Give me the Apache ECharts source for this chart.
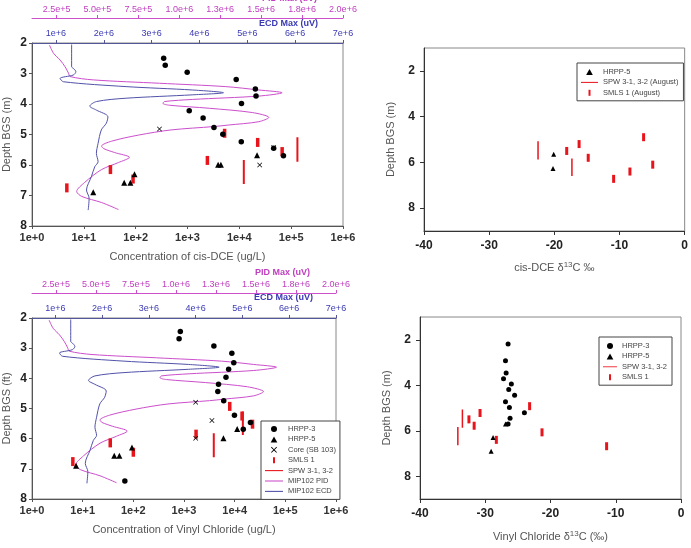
<!DOCTYPE html>
<html>
<head>
<meta charset="utf-8">
<script src="https://cdn.jsdelivr.net/npm/echarts@6/dist/echarts.min.js"></script>
<style>
html, body { margin: 0; padding: 0; background: #fff; }
#main { width: 691px; height: 548px; }
</style>
</head>
<body>
<div id="main"></div>
<script>
// ---------- data: [concentration or delta13C, depth m] ----------
var dceHrpp3 = [[347,2.50],[372,2.73],[986,2.96],[8700,3.20],[20400,3.51],[21000,3.74],[11000,3.98],[1080,4.22],[2000,4.46],[3240,4.77],[4800,4.99],[10900,5.24],[46000,5.45],[71000,5.70]];
var dceHrpp5 = [[15.2,6.89],[60,6.58],[79,6.58],[95,6.30],[3900,5.99],[4400,5.99],[22000,5.68]];
var dceCore = [[288,4.82],[46000,5.43],[24700,6.0]];
var dceSmls = [[5200,4.96],[22600,5.26],[67000,5.56],[2420,5.85],[32.6,6.15],[89,6.46],[4.7,6.75]];
var dceSpw = [[132000,5.09,5.89],[12200,5.84,6.62]];   // [conc, top, bottom]

var vcHrpp3 = [[846,2.45],[800,2.69],[3890,2.93],[8800,3.17],[9600,3.48],[7600,3.70],[6740,3.96],[4800,4.20],[4650,4.44],[6080,4.74],[9900,5.22],[20500,5.46],[14800,5.69],[68,7.40]];
var vcHrpp5 = [[94,6.29],[42,6.57],[53,6.57],[7.4,6.90],[6000,5.99],[11200,5.68]];
var vcCore = [[1700,4.79],[3560,5.40],[1700,5.99]];
var vcSmls = [[8000,4.93],[14000,5.25],[22500,5.52],[1730,5.85],[35,6.14],[100,6.45],[6.4,6.76]];
var vcSpw = [[14500,5.10,5.88],[3870,5.82,6.62]];

// MIP102 log: [uV, depth]
var mipPid = [[207000,2.07],[232000,2.34],[272000,2.56],[302000,2.78],[323000,2.99],[333000,3.10],[475000,3.21],[879000,3.32],[1284000,3.43],[1486000,3.54],[1628000,3.63],[1486000,3.74],[1082000,3.85],[909000,3.92],[900000,3.98],[940000,4.04],[1183000,4.14],[1446000,4.28],[1547000,4.44],[1486000,4.58],[1300000,4.69],[1210000,4.74],[950000,4.85],[750000,5.02],[586000,5.22],[525000,5.38],[537000,5.46],[604000,5.59],[695000,5.75],[628000,5.92],[525000,6.15],[422000,6.57],[373000,6.87],[404000,7.03],[525000,7.23],[628000,7.46]];
var mipEcd = [[1328000,2.05],[1328000,2.78],[1363000,2.83],[1417000,2.94],[1363000,3.05],[1087000,3.16],[1156000,3.27],[2467000,3.43],[3848000,3.54],[4502000,3.63],[3848000,3.70],[2467000,3.81],[1846000,3.92],[1707000,4.07],[1846000,4.20],[2087000,4.42],[2053000,4.63],[1949000,4.85],[1881000,5.29],[1846000,5.62],[1881000,5.89],[1811000,6.06],[1742000,6.38],[1639000,6.82],[1694000,7.09],[1674000,7.48]];

// delta 13C
var isoDceHrpp5 = [[-20.1,5.65],[-20.2,6.27]];
var isoDceSpw = [[-22.5,5.08,5.87],[-17.3,5.83,6.60]];
var isoDceSmls = [[-18.1,5.5],[-16.2,5.2],[-14.8,5.8],[-6.3,4.9],[-10.9,6.72],[-8.4,6.4],[-4.9,6.1]];

var isoVcHrpp3 = [[-26.5,2.19],[-26.9,2.92],[-26.8,3.46],[-27.2,3.71],[-26.0,3.94],[-26.4,4.19],[-25.5,4.44],[-26.9,4.73],[-26.3,4.98],[-24.0,5.21],[-26.2,5.45],[-26.5,5.70]];
var isoVcHrpp5 = [[-26.9,5.70],[-28.8,6.30],[-29.1,6.90]];
var isoVcSpw = [[-33.5,5.07,5.87],[-34.2,5.83,6.64]];
var isoVcSmls = [[-23.2,4.92],[-30.8,5.22],[-32.5,5.5],[-31.7,5.78],[-28.3,6.4],[-21.3,6.07],[-11.4,6.68]];

// tick labels
var pidTicks = [250000,500000,750000,1000000,1250000,1500000,1750000,2000000];
var ecdTicks = [1000000,2000000,3000000,4000000,5000000,6000000,7000000];
var depthTicksRight = [2,4,6,8];

// ---------- helpers ----------
var RED = '#e8141c', PINK = '#cc4fcc', BLUE = '#5252aa';
var crossPath = 'path://M1,0 L5,4 L9,0 L10,1 L6,5 L10,9 L9,10 L5,6 L1,10 L0,9 L4,5 L0,1 Z';

function spwLine(rows) {
  var out = [];
  rows.forEach(function (r, i) {
    if (i) out.push(['-', '-']);
    out.push([r[0], r[1]]);
    out.push([r[0], r[2]]);
  });
  return out;
}

function logAxis(g, title) {
  return {
    type: 'log', gridIndex: g, min: 1, max: 1e6, logBase: 10, position: 'bottom',
    axisLine: { onZero: false, lineStyle: { color: '#555' } },
    axisTick: { length: 3, lineStyle: { color: '#555' } },
    minorTick: { show: false }, splitLine: { show: false },
    axisLabel: { color: '#333', fontSize: 11, fontWeight: 'bold', margin: 6,
      formatter: function (v) { return '1e+' + Math.round(Math.log10(v)); } },
    name: title, nameLocation: 'middle', nameGap: 25,
    nameTextStyle: { color: '#555', fontSize: 11 }
  };
}
function pidAxis(g) {
  return {
    type: 'value', gridIndex: g, position: 'top', offset: 25, min: 100000, max: 2000000,
    axisLine: { show: true, onZero: false, lineStyle: { color: PINK } },
    axisTick: { show: true, length: 3, customValues: pidTicks, lineStyle: { color: PINK } },
    splitLine: { show: false },
    axisLabel: { customValues: pidTicks, color: '#c03ec0', fontSize: 9, margin: 4,
      formatter: function (v) { return v.toExponential(1); } }
  };
}
function ecdAxis(g) {
  return {
    type: 'value', gridIndex: g, position: 'top', min: 500000, max: 7000000,
    axisLine: { show: true, onZero: false, lineStyle: { color: '#55559a' } },
    axisTick: { show: true, length: 3, customValues: ecdTicks, lineStyle: { color: '#55559a' } },
    splitLine: { show: false },
    axisLabel: { customValues: ecdTicks, color: '#3a3ab4', fontSize: 9, margin: 5,
      formatter: function (v) { return v.toExponential(0); } }
  };
}
function isoAxis(g, nameRich, gap) {
  return {
    type: 'value', gridIndex: g, min: -40, max: 0, interval: 10,
    axisLine: { onZero: false, lineStyle: { color: '#333' } },
    axisTick: { length: 4, lineStyle: { color: '#333' } },
    splitLine: { show: false },
    axisLabel: { color: '#222', fontSize: 12, fontWeight: 'bold', margin: 9 },
    name: nameRich, nameLocation: 'middle', nameGap: gap,
    nameTextStyle: { color: '#555', fontSize: 11,
      rich: { s: { fontSize: 8, verticalAlign: 'top', color: '#555', padding: [0, 0, 6, 0] } } }
  };
}
function depthLeft(g, title) {
  return {
    type: 'value', gridIndex: g, inverse: true, min: 2, max: 8, interval: 1,
    axisLine: { show: true, onZero: false, lineStyle: { color: '#555' } },
    axisTick: { show: true, length: 3, lineStyle: { color: '#555' } },
    splitLine: { show: false },
    axisLabel: { color: '#222', fontSize: 12, fontWeight: 'bold', margin: 5 },
    name: title, nameLocation: 'middle', nameGap: 20,
    nameTextStyle: { color: '#555', fontSize: 11 }
  };
}
function depthRight(g) {
  return {
    type: 'value', gridIndex: g, inverse: true, min: 1, max: 9,
    axisLine: { show: true, onZero: false, lineStyle: { color: '#333' } },
    axisTick: { show: true, length: 4, customValues: depthTicksRight, lineStyle: { color: '#333' } },
    splitLine: { show: false },
    axisLabel: { customValues: depthTicksRight, color: '#222', fontSize: 12, fontWeight: 'bold', margin: 9 },
    name: 'Depth BGS (m)', nameLocation: 'middle', nameGap: 28,
    nameTextStyle: { color: '#555', fontSize: 11 }
  };
}

function dots(name, sym, size, data, x, y, color) {
  return { name: name, type: 'scatter', xAxisIndex: x, yAxisIndex: y, symbol: sym, symbolSize: size,
    itemStyle: { color: color || '#000', opacity: 1 }, data: data, z: 5 };
}
function curve(name, data, x, y, color, width, smooth) {
  return { name: name, type: 'line', xAxisIndex: x, yAxisIndex: y, data: data, symbol: 'none',
    smooth: smooth, connectNulls: false, lineStyle: { color: color, width: width },
    itemStyle: { color: color }, z: 3 };
}

// legend icons
var barIcon = 'path://M0,0 H3 V9 H0 Z';
var lineIcon = 'path://M0,0 H40 V2.4 H0 Z';
var triIcon = 'path://M5,0 L10,9 L0,9 Z';
var dotIcon = 'circle';
var legendBase = {
  orient: 'vertical', selectedMode: false, backgroundColor: '#fff',
  borderColor: '#444', borderWidth: 1, itemGap: 2.4, itemHeight: 6, symbolKeepAspect: true,
  textStyle: { fontSize: 7.5, color: '#444' }
};
function item(name, icon) { return { name: name, icon: icon }; }

var chart = echarts.init(document.getElementById('main'));
chart.setOption({
  animation: false,
  backgroundColor: '#fff',
  textStyle: { fontFamily: 'Liberation Sans, Arial, sans-serif' },
  grid: [
    { left: 30, top: 43, width: 313, height: 183, show: true, borderColor: '#888', borderWidth: 1 },
    { left: 424, top: 48, width: 261, height: 183, show: true, borderColor: '#888', borderWidth: 1 },
    { left: 25, top: 318, width: 311, height: 181, show: true, borderColor: '#888', borderWidth: 1 },
    { left: 420, top: 317, width: 261, height: 182, show: true, borderColor: '#888', borderWidth: 1 }
  ],
  xAxis: [
    logAxis(0, 'Concentration of cis-DCE (ug/L)'),
    pidAxis(0),
    ecdAxis(0),
    isoAxis(1, 'cis-DCE \u03b4{s|13}C \u2030', 30),
    logAxis(2, 'Concentration of Vinyl Chloride (ug/L)'),
    pidAxis(2),
    ecdAxis(2),
    isoAxis(3, 'Vinyl Chloride \u03b4{s|13}C (\u2030)', 31)
  ],
  yAxis: [depthLeft(0, 'Depth BGS (m)'), depthRight(1), depthLeft(2, 'Depth BGS (ft)'), depthRight(3)],
  legend: [
    Object.assign({}, legendBase, {
      left: 261, top: 421, itemWidth: 18, padding: [4, 4, 4, 4],
      data: [item('HRPP-3', dotIcon), item('HRPP-5', triIcon), item('Core (SB 103)', crossPath),
        item('SMLS 1', barIcon), item('SPW 3-1, 3-2', lineIcon), item('MIP102 PID', lineIcon),
        item('MIP102 ECD', lineIcon)]
    }),
    Object.assign({}, legendBase, {
      left: 577, top: 63, itemWidth: 17, padding: [5, 5, 4, 4],
      data: [item('HRPP-5', triIcon), item('SPW 3-1, 3-2 (August)', lineIcon),
        item('SMLS 1 (August)', barIcon)]
    }),
    Object.assign({}, legendBase, {
      left: 599, top: 337, itemWidth: 14, padding: [5, 5, 4, 4],
      data: [item('HRPP-3', dotIcon), item('HRPP-5', triIcon), item('SPW 3-1, 3-2', lineIcon),
        item('SMLS 1', barIcon)]
    })
  ],
  graphic: [
    { type: 'text', x: 317, y: -1, style: { text: 'PID Max (uV)', fill: '#c03ec0', font: 'bold 9px Liberation Sans', align: 'right', verticalAlign: 'middle' } },
    { type: 'text', x: 318, y: 24, style: { text: 'ECD Max (uV)', fill: '#3a3ab4', font: 'bold 9px Liberation Sans', align: 'right', verticalAlign: 'middle' } },
    { type: 'text', x: 310, y: 273, style: { text: 'PID Max (uV)', fill: '#c03ec0', font: 'bold 9px Liberation Sans', align: 'right', verticalAlign: 'middle' } },
    { type: 'text', x: 313, y: 298, style: { text: 'ECD Max (uV)', fill: '#3a3ab4', font: 'bold 9px Liberation Sans', align: 'right', verticalAlign: 'middle' } }
  ],
  series: [
    // top left: cis-DCE concentration
    curve('MIP102 PID', mipPid, 1, 0, PINK, 1, 0.3),
    curve('MIP102 ECD', mipEcd, 2, 0, BLUE, 1, 0.3),
    curve('SPW 3-1, 3-2', spwLine(dceSpw), 0, 0, RED, 2, false),
    dots('SMLS 1', 'rect', [3.5, 9], dceSmls, 0, 0, RED),
    dots('HRPP-3', 'circle', 5.5, dceHrpp3, 0, 0),
    dots('HRPP-5', 'triangle', 6, dceHrpp5, 0, 0),
    dots('Core (SB 103)', crossPath, 5, dceCore, 0, 0),

    // top right: cis-DCE delta 13C
    curve('SPW 3-1, 3-2 (August)', spwLine(isoDceSpw), 3, 1, RED, 1.5, false),
    dots('SMLS 1 (August)', 'rect', [3, 8], isoDceSmls, 3, 1, RED),
    dots('HRPP-5', 'triangle', 5, isoDceHrpp5, 3, 1),

    // bottom left: vinyl chloride concentration
    curve('MIP102 PID', mipPid, 5, 2, PINK, 1, 0.3),
    curve('MIP102 ECD', mipEcd, 6, 2, BLUE, 1, 0.3),
    curve('SPW 3-1, 3-2', spwLine(vcSpw), 4, 2, RED, 2, false),
    dots('SMLS 1', 'rect', [3.5, 9], vcSmls, 4, 2, RED),
    dots('HRPP-3', 'circle', 5.5, vcHrpp3, 4, 2),
    dots('HRPP-5', 'triangle', 6, vcHrpp5, 4, 2),
    dots('Core (SB 103)', crossPath, 5, vcCore, 4, 2),

    // bottom right: vinyl chloride delta 13C
    curve('SPW 3-1, 3-2', spwLine(isoVcSpw), 7, 3, RED, 1.5, false),
    dots('SMLS 1', 'rect', [3, 8], isoVcSmls, 7, 3, RED),
    dots('HRPP-3', 'circle', 5, isoVcHrpp3, 7, 3),
    dots('HRPP-5', 'triangle', 5, isoVcHrpp5, 7, 3)
  ]
});
</script>
</body>
</html>
